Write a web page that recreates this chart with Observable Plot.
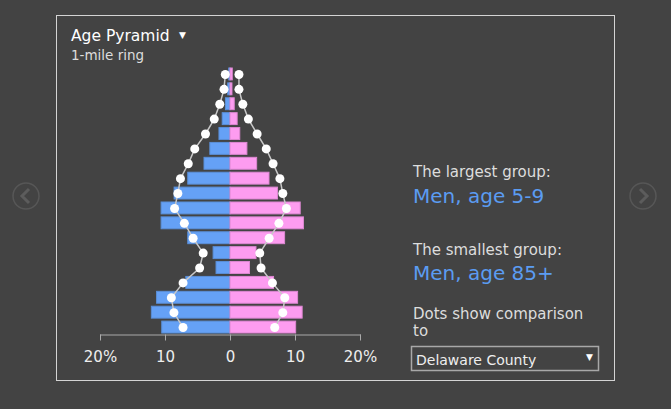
<!DOCTYPE html>
<html><head><meta charset="utf-8">
<script src="https://cdn.jsdelivr.net/npm/d3@7"></script>
<script src="https://cdn.jsdelivr.net/npm/@observablehq/plot@0.6"></script>
<style>
html,body{margin:0;padding:0;background:#434343;}
#wrap{position:relative;width:671px;height:409px;overflow:hidden;background:#434343;font-family:"DejaVu Sans",Verdana,sans-serif;}
#wrap svg{position:absolute;left:0;top:0;}
#plot svg text{fill:#eeeeee;}
#overlay text{font-family:"DejaVu Sans",Verdana,sans-serif;}
</style></head><body>
<div id="wrap"><div id="plot"></div><svg id="overlay" width="671" height="409"></svg></div>
<script>
const ageGroups = ["85+","80-84","75-79","70-74","65-69","60-64","55-59","50-54","45-49","40-44","35-39","30-34","25-29","20-24","15-19","10-14","5-9","0-4"];
const menPct   = [0.2, 0.35, 0.7, 1.2, 1.7, 3.1, 4.0, 6.5, 8.6, 10.6, 10.6, 6.5, 2.6, 2.15, 6.8, 11.3, 12.1, 10.5];
const womenPct = [0.35, 0.3, 0.65, 1.1, 1.5, 2.6, 4.1, 6.0, 7.3, 10.8, 11.3, 8.4, 4.0, 3.0, 6.7, 10.4, 11.1, 10.1];
const menCompare   = [0.8, 1.0, 1.65, 2.5, 3.85, 5.5, 6.5, 7.7, 8.1, 8.6, 7.1, 5.75, 4.2, 4.75, 7.3, 9.1, 8.7, 7.3];
const womenCompare = [1.3, 1.3, 1.9, 2.75, 4.1, 5.5, 6.55, 7.6, 8.05, 8.6, 7.45, 5.95, 4.5, 4.7, 6.45, 8.35, 8.05, 6.8];
const xTicks = [-20, -10, 0, 10, 20];
const xTickLabels = ["20%", "10", "0", "10", "20%"];

const BLUE = "#65a1f6", BLUE_EDGE = "#5a8fd8";
const PINK = "#fd9cf0", PINK_EDGE = "#dd88d2";

const rows = ageGroups.map((age, i) => ({
  age, men: menPct[i], women: womenPct[i], menC: menCompare[i], womenC: womenCompare[i]
}));

const chart = Plot.plot({
  width: 671, height: 409,
  marginLeft: 100, marginRight: 311, marginTop: 66.5, marginBottom: 74.5,
  style: {background: "transparent", color: "#aaaaaa", fontSize: "15px", fontFamily: "DejaVu Sans, Verdana, sans-serif"},
  x: {domain: [-20, 20], ticks: xTicks, tickFormat: d => xTickLabels[xTicks.indexOf(d)], tickSize: 6, tickPadding: 10, line: true, label: null},
  y: {domain: ageGroups, paddingInner: 0.2, paddingOuter: 0.1, round: false, axis: null},
  marks: [
    Plot.barX(rows, {y: "age", x1: 0, x2: d => -d.men, fill: BLUE, stroke: BLUE_EDGE, strokeWidth: 1}),
    Plot.barX(rows, {y: "age", x1: 0, x2: "women", fill: PINK, stroke: PINK_EDGE, strokeWidth: 1}),
    Plot.line(rows, {x: d => -d.menC, y: "age", stroke: "#c8c8c8", strokeWidth: 1.5}),
    Plot.line(rows, {x: "womenC", y: "age", stroke: "#c8c8c8", strokeWidth: 1.5}),
    Plot.dot(rows, {x: d => -d.menC, y: "age", r: 4.5, fill: "white"}),
    Plot.dot(rows, {x: "womenC", y: "age", r: 4.5, fill: "white"})
  ]
});
document.getElementById("plot").appendChild(chart);

const ov = d3.select("#overlay");
ov.append("rect").attr("x", 56.5).attr("y", 15.5).attr("width", 558).attr("height", 365)
  .attr("fill", "none").attr("stroke", "#d4d4d4").attr("stroke-width", 1);
function txt(x, y, s, size, fill) {
  return ov.append("text").attr("x", x).attr("y", y).attr("font-size", size).attr("fill", fill).text(s);
}
txt(71, 41, "Age Pyramid", 15.5, "#ffffff");
txt(179, 38, "▼", 9, "#ffffff");
txt(71, 60, "1-mile ring", 13.5, "#dddddd");
txt(413, 177, "The largest group:", 15, "#dddddd");
txt(413, 203, "Men, age 5-9", 20, "#5b9cf2");
txt(413, 254.5, "The smallest group:", 15, "#dddddd");
txt(413, 280, "Men, age 85+", 20, "#5b9cf2");
txt(413, 318.5, "Dots show comparison", 15, "#dddddd");
txt(413, 335.5, "to", 15, "#dddddd");
ov.append("rect").attr("x", 411.5).attr("y", 346.5).attr("width", 187).attr("height", 24)
  .attr("fill", "#434343").attr("stroke", "#a8a8a8").attr("stroke-width", 1.5);
txt(416, 364.5, "Delaware County", 14, "#eeeeee");
txt(586, 360, "▼", 9, "#ffffff");
[[26, 196, -1], [643, 196, 1]].forEach(([cx, cy, dir]) => {
  ov.append("circle").attr("cx", cx).attr("cy", cy).attr("r", 13)
    .attr("fill", "none").attr("stroke", "#575757").attr("stroke-width", 1.5);
  ov.append("polyline").attr("points", `${cx - 3 * dir},${cy - 7} ${cx + 4 * dir},${cy} ${cx - 3 * dir},${cy + 7}`)
    .attr("fill", "none").attr("stroke", "#5c5c5c").attr("stroke-width", 3);
});
</script>
</body></html>
